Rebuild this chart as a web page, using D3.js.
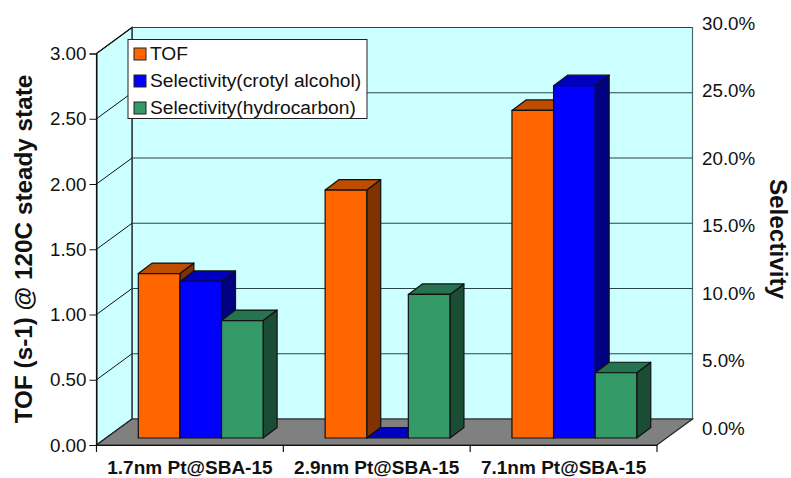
<!DOCTYPE html>
<html>
<head>
<meta charset="utf-8">
<script src="https://cdn.jsdelivr.net/npm/d3@7"></script>
<style>
html, body { margin: 0; padding: 0; background: #fff; }
svg { display: block; }
text { font-family: "Liberation Sans", Arial, sans-serif; fill: #111; }
</style>
</head>
<body>
<div id="chart"></div>
<script>
const categories = ["1.7nm Pt@SBA-15", "2.9nm Pt@SBA-15", "7.1nm Pt@SBA-15"];
const seriesNames = ["TOF", "Selectivity(crotyl alcohol)", "Selectivity(hydrocarbon)"];
const tof = [1.26, 1.90, 2.51];
const crotylAlcohol = [12.0, 0, 27.0];
const hydrocarbon = [9.0, 11.0, 5.0];
const tofTicks = [0, 0.5, 1, 1.5, 2, 2.5, 3];
const selectivityTicks = [0, 5, 10, 15, 20, 25, 30];

const width = 791, height = 478;
const plotLeft = 96.5, plotRight = 657, plotBottom = 445, plotTop = 53.5;
const depthX = 35.5, depthY = -26;
const barDepthX = 14, barDepthY = -10.5;
const floorY = -7;   // where the bars stand on the floor

const svg = d3.select("#chart").append("svg")
    .attr("width", width)
    .attr("height", height);

const yTof = d3.scaleLinear().domain([0, 3]).range([plotBottom, plotTop]);
const ySel = d3.scaleLinear().domain([0, 30]).range([plotBottom, plotTop]);
const ySelLabels = d3.scaleLinear().domain([0, 30]).range([428, 23.5]);
const x = d3.scaleBand().domain(categories).range([plotLeft, plotRight]);
const xSeries = d3.scaleBand().domain(seriesNames).range([41.8, 166.6]);

// Walls
const wall = svg.append("g");
const poly = (pts) => pts.map((p) => p.join(",")).join(" ");

wall.append("polygon")
    .attr("points", poly([[plotLeft + depthX, plotTop + depthY], [plotRight + depthX, plotTop + depthY], [plotRight + depthX, plotBottom + depthY], [plotLeft + depthX, plotBottom + depthY]]))
    .attr("fill", "#ccffff")
    .attr("stroke", "#4d6b6b")
    .attr("stroke-width", 1.2);

wall.append("polygon")
    .attr("points", poly([[plotLeft, plotTop], [plotLeft + depthX, plotTop + depthY], [plotLeft + depthX, plotBottom + depthY], [plotLeft, plotBottom]]))
    .attr("fill", "#ccffff")
    .attr("stroke", "#111")
    .attr("stroke-width", 1.2);

// Gridlines on both walls
tofTicks.forEach((t) => {
    if (t > 0) {
        wall.append("line")
            .attr("x1", plotLeft).attr("y1", yTof(t))
            .attr("x2", plotLeft + depthX).attr("y2", yTof(t) + depthY)
            .attr("stroke", "#111").attr("stroke-width", 1);
        wall.append("line")
            .attr("x1", plotLeft + depthX).attr("y1", yTof(t) + depthY)
            .attr("x2", plotRight + depthX).attr("y2", yTof(t) + depthY)
            .attr("stroke", "#2c4444").attr("stroke-width", 1.1);
    }
});

// Floor
wall.append("polygon")
    .attr("points", poly([[plotLeft, plotBottom], [plotRight, plotBottom], [plotRight + depthX, plotBottom + depthY], [plotLeft + depthX, plotBottom + depthY]]))
    .attr("fill", "#808080")
    .attr("stroke", "#222")
    .attr("stroke-width", 1.2);

// Bars
const series = [
    { name: seriesNames[0], values: tof, y: yTof, front: "#ff6600", top: "#bf4d00", side: "#803300" },
    { name: seriesNames[1], values: crotylAlcohol, y: ySel, front: "#0000ff", top: "#0000bf", side: "#000080" },
    { name: seriesNames[2], values: hydrocarbon, y: ySel, front: "#339966", top: "#267350", side: "#1a4d33" }
];

const bars = svg.append("g")
    .attr("stroke", "#111")
    .attr("stroke-width", 1.2)
    .attr("stroke-linejoin", "round");

categories.forEach((cat, c) => {
    series.forEach((s) => {
        const x0 = x(cat) + xSeries(s.name);
        const x1 = x0 + xSeries.bandwidth();
        const y0 = plotBottom + floorY;
        const y1 = s.y(s.values[c]) + floorY;
        bars.append("polygon")
            .attr("points", poly([[x1, y1], [x1 + barDepthX, y1 + barDepthY], [x1 + barDepthX, y0 + barDepthY], [x1, y0]]))
            .attr("fill", s.side);
        bars.append("polygon")
            .attr("points", poly([[x0, y1], [x0 + barDepthX, y1 + barDepthY], [x1 + barDepthX, y1 + barDepthY], [x1, y1]]))
            .attr("fill", s.top);
        bars.append("rect")
            .attr("x", x0).attr("y", y1)
            .attr("width", x1 - x0).attr("height", y0 - y1)
            .attr("fill", s.front);
    });
});

// Axes
const leftAxis = svg.append("g")
    .attr("transform", `translate(${plotLeft},0)`)
    .call(d3.axisLeft(yTof).tickValues(tofTicks).tickFormat(d3.format(".2f")).tickSize(7).tickPadding(3));
leftAxis.selectAll("text").attr("font-size", 18.8);

const rightAxis = svg.append("g")
    .attr("transform", "translate(702,0)")
    .call(d3.axisRight(ySelLabels).tickValues(selectivityTicks).tickFormat((d) => d3.format(".1f")(d) + "%").tickSize(0).tickPadding(0));
rightAxis.select(".domain").remove();
rightAxis.selectAll("text").attr("font-size", 18.8);

const bottomAxis = svg.append("g")
    .attr("transform", `translate(0,${plotBottom})`)
    .call(d3.axisBottom(x).tickSize(0).tickPadding(15.4));
bottomAxis.selectAll("text").attr("font-size", 19).attr("font-weight", "bold");

const edges = d3.range(categories.length + 1).map((i) => plotLeft + i * x.step());
bottomAxis.selectAll(".edge").data(edges).join("line")
    .attr("class", "edge")
    .attr("x1", (d) => d).attr("x2", (d) => d)
    .attr("y1", 0).attr("y2", 7)
    .attr("stroke", "#111").attr("stroke-width", 1.2);

svg.selectAll(".domain, .tick line").attr("stroke", "#111");

// Axis titles
svg.append("text")
    .attr("transform", "translate(32,249) rotate(-90)")
    .attr("text-anchor", "middle")
    .attr("font-size", 24.3)
    .attr("font-weight", "bold")
    .text("TOF (s-1) @ 120C steady state");

svg.append("text")
    .attr("transform", "translate(769.5,239) rotate(90)")
    .attr("text-anchor", "middle")
    .attr("font-size", 24.3)
    .attr("font-weight", "bold")
    .text("Selectivity");

// Legend
const legend = svg.append("g").attr("transform", "translate(128,39.5)");
legend.append("rect")
    .attr("width", 239).attr("height", 79)
    .attr("fill", "#fff")
    .attr("stroke", "#222")
    .attr("stroke-width", 1);

const legendRow = d3.scaleBand().domain(seriesNames).range([0, 81]);
series.forEach((s) => {
    const row = legend.append("g").attr("transform", `translate(0,${legendRow(s.name)})`);
    row.append("rect")
        .attr("x", 6).attr("y", 8.5)
        .attr("width", 12).attr("height", 12)
        .attr("fill", s.front)
        .attr("stroke", "#222").attr("stroke-width", 1);
    row.append("text")
        .attr("x", 22).attr("y", 20.5)
        .attr("font-size", 19.2)
        .text(s.name);
});
</script>
</body>
</html>
